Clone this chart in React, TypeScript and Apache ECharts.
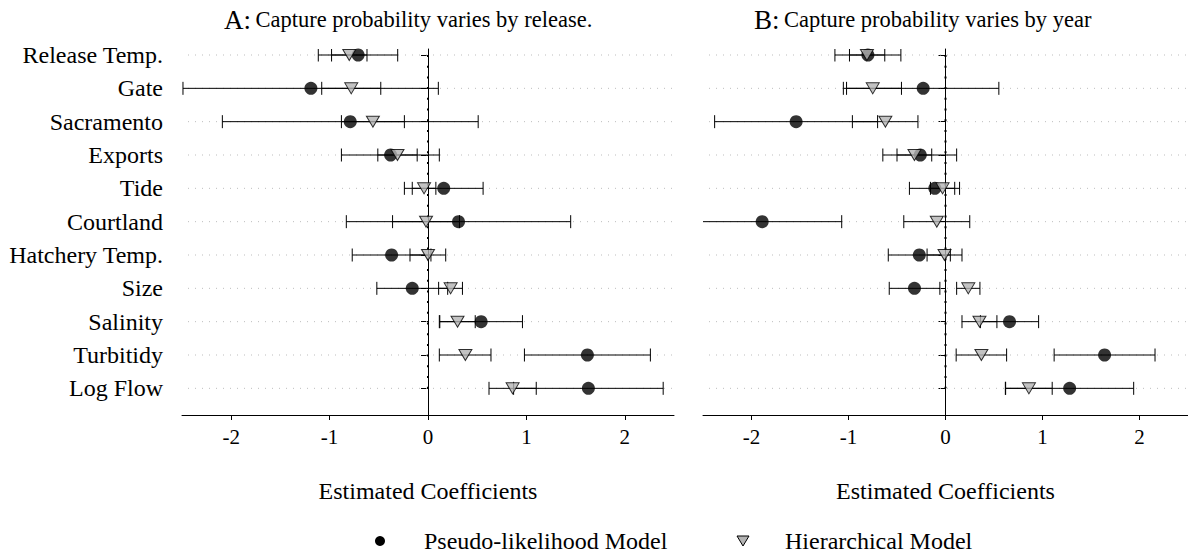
import React, { useEffect, useRef } from "react";
import * as echarts from "echarts";

const variables = [
  "Release Temp.", "Gate", "Sacramento", "Exports", "Tide", "Courtland",
  "Hatchery Temp.", "Size", "Salinity", "Turbitidy", "Log Flow",
];
const rows = variables.map((_, i) => i + 1);
const xTicks = [-2, -1, 0, 1, 2];

// Panel A: capture probability varies by release
const pseudoEstA = [-0.71, -1.19, -0.79, -0.38, 0.16, 0.31, -0.37, -0.16, 0.54, 1.62, 1.63];
const pseudoLowA = [-1.115, -2.49, -2.09, -0.88, -0.24, -0.83, -0.77, -0.52, 0.12, 0.98, 0.87];
const pseudoHighA = [-0.308, 0.105, 0.51, 0.115, 0.56, 1.45, 0.03, 0.2, 0.96, 2.26, 2.39];
const hierEstA = [-0.8, -0.78, -0.56, -0.31, -0.04, -0.02, 0.0, 0.23, 0.3, 0.38, 0.86];
const hierLowA = [-0.98, -1.08, -0.88, -0.51, -0.16, -0.36, -0.183, 0.108, 0.115, 0.115, 0.62];
const hierHighA = [-0.62, -0.48, -0.24, -0.11, 0.08, 0.32, 0.18, 0.35, 0.48, 0.64, 1.1];

// Panel B: capture probability varies by year
const pseudoEstB = [-0.8, -0.23, -1.54, -0.26, -0.11, -1.89, -0.27, -0.32, 0.66, 1.64, 1.28];
const pseudoLowB = [-1.14, -1.02, -2.38, -0.646, -0.372, -2.71, -0.59, -0.58, 0.36, 1.12, 0.62];
const pseudoHighB = [-0.46, 0.55, -0.7, 0.115, 0.145, -1.07, 0.05, -0.058, 0.96, 2.16, 1.94];
const hierEstB = [-0.81, -0.75, -0.62, -0.32, -0.03, -0.09, -0.01, 0.235, 0.35, 0.37, 0.86];
const hierLowB = [-0.99, -1.053, -0.96, -0.5, -0.155, -0.43, -0.19, 0.115, 0.17, 0.11, 0.617];
const hierHighB = [-0.626, -0.454, -0.284, -0.142, 0.095, 0.25, 0.17, 0.355, 0.53, 0.63, 1.1];

const PSEUDO = "Pseudo-likelihood Model";
const HIER = "Hierarchical Model";
const FONT = "Liberation Serif";
const TRI_GRAY = "#b4b4b4";

function gridLines(idx: number) {
  return {
    type: "custom",
    xAxisIndex: idx,
    yAxisIndex: idx,
    silent: true,
    z: 1,
    data: rows.map((r) => [0, r]),
    encode: { x: 0, y: 1 },
    renderItem: (params: any, api: any) => {
      const y = api.coord([0, api.value(1)])[1];
      const cs = params.coordSys;
      return {
        type: "line",
        shape: { x1: cs.x + 6, y1: y, x2: cs.x + cs.width, y2: y },
        style: { stroke: "#bdbdbd", lineWidth: 1, lineDash: [1, 6] },
      };
    },
  };
}

function errorBars(idx: number, name: string, low: number[], high: number[]) {
  return {
    type: "custom",
    name,
    xAxisIndex: idx,
    yAxisIndex: idx,
    clip: true,
    silent: true,
    z: 3,
    data: low.map((l, i) => [l, high[i], i + 1]),
    encode: { x: [0, 1], y: 2 },
    renderItem: (_params: any, api: any) => {
      const p1 = api.coord([api.value(0), api.value(2)]);
      const p2 = api.coord([api.value(1), api.value(2)]);
      const h = 6.5;
      const style = { stroke: "#000", lineWidth: 1, fill: "none" };
      return {
        type: "group",
        children: [
          { type: "line", shape: { x1: p1[0], y1: p1[1], x2: p2[0], y2: p2[1] }, style },
          { type: "line", shape: { x1: p1[0], y1: p1[1] - h, x2: p1[0], y2: p1[1] + h }, style },
          { type: "line", shape: { x1: p2[0], y1: p2[1] - h, x2: p2[0], y2: p2[1] + h }, style },
        ],
      };
    },
  };
}

function zeroLine(idx: number) {
  return {
    type: "line",
    xAxisIndex: idx,
    yAxisIndex: idx,
    silent: true,
    symbol: "none",
    z: 2,
    data: [[0, rows[0]], [0, rows[rows.length - 1]]],
    lineStyle: { color: "#000", width: 2, type: [2, 8.7] },
  };
}

function points(idx: number, est: number[], hier: boolean) {
  return {
    type: "scatter",
    name: hier ? HIER : PSEUDO,
    xAxisIndex: idx,
    yAxisIndex: idx,
    z: hier ? 5 : 4,
    symbol: hier ? "triangle" : "circle",
    symbolRotate: hier ? 180 : 0,
    symbolSize: hier ? [13, 11] : 13,
    itemStyle: hier
      ? { color: TRI_GRAY, borderColor: "#000", borderWidth: 1 }
      : { color: "#000" },
    data: est.map((v, i) => [v, i + 1]),
  };
}

function xAxis(idx: number) {
  return {
    type: "value",
    gridIndex: idx,
    min: -2.5,
    max: 2.5,
    name: "Estimated Coefficients",
    nameLocation: "middle",
    nameGap: 64,
    nameTextStyle: { fontFamily: FONT, fontSize: 24, color: "#000" },
    axisLine: { show: true, lineStyle: { color: "#000", width: 1 } },
    axisTick: { show: true, length: 5, customValues: xTicks, lineStyle: { color: "#000" } },
    axisLabel: {
      customValues: xTicks,
      fontFamily: FONT,
      fontSize: 21,
      color: "#000",
      margin: 11,
      formatter: (v: number) => String(v),
    },
    splitLine: { show: false },
  };
}

function yAxis(idx: number, showLabels: boolean) {
  return {
    type: "value",
    gridIndex: idx,
    inverse: true,
    min: 0.82,
    max: 11.8,
    axisLine: { show: true, lineStyle: { color: "#000", width: 1 } },
    axisTick: { show: true, length: 7, customValues: rows, lineStyle: { color: "#000" } },
    axisLabel: {
      show: showLabels,
      customValues: rows,
      fontFamily: FONT,
      fontSize: 24,
      color: "#000",
      margin: 19,
      formatter: (v: number) => variables[Math.round(v) - 1] ?? "",
    },
    splitLine: { show: false },
  };
}

function titleOf(left: number, letter: string, text: string) {
  return {
    left,
    top: 1,
    text: `{a|${letter}} {b|${text}}`,
    textStyle: {
      fontWeight: "normal",
      fontFamily: FONT,
      rich: {
        a: { fontFamily: FONT, fontSize: 27, fontWeight: "normal", color: "#000" },
        b: { fontFamily: FONT, fontSize: 22.5, fontWeight: "normal", color: "#000" },
      },
    },
  };
}

const legendText = { fontFamily: FONT, fontSize: 24, fill: "#000", verticalAlign: "middle" };

export default function App() {
  const ref = useRef<HTMLDivElement>(null);
  useEffect(() => {
    if (!ref.current) return;
    const chart = echarts.init(ref.current, undefined, { renderer: "svg" });
    chart.setOption({
      animation: false,
      backgroundColor: "#fff",
      textStyle: { fontFamily: FONT },
      title: [
        titleOf(219, "A:", "Capture probability varies by release."),
        titleOf(749, "B:", "Capture probability varies by year"),
      ],
      graphic: [
        { type: "circle", shape: { cx: 380, cy: 541, r: 5 }, style: { fill: "#000" } },
        { type: "text", x: 424, y: 541, style: { ...legendText, text: PSEUDO } },
        {
          type: "polygon",
          shape: { points: [[737, 536], [749, 536], [743, 546]] },
          style: { fill: TRI_GRAY, stroke: "#000", lineWidth: 1 },
        },
        { type: "text", x: 785, y: 541, style: { ...legendText, text: HIER } },
      ],
      grid: [
        { left: 182, top: 49, width: 492, height: 366 },
        { left: 703, top: 49, width: 492, height: 366 },
      ],
      xAxis: [xAxis(0), xAxis(1)],
      yAxis: [yAxis(0, true), yAxis(1, false)],
      series: [
        gridLines(0),
        gridLines(1),
        zeroLine(0),
        zeroLine(1),
        errorBars(0, PSEUDO + " interval", pseudoLowA, pseudoHighA),
        errorBars(0, HIER + " interval", hierLowA, hierHighA),
        errorBars(1, PSEUDO + " interval", pseudoLowB, pseudoHighB),
        errorBars(1, HIER + " interval", hierLowB, hierHighB),
        points(0, pseudoEstA, false),
        points(0, hierEstA, true),
        points(1, pseudoEstB, false),
        points(1, hierEstB, true),
      ],
    });
    return () => chart.dispose();
  }, []);
  return (
    <div
      ref={ref}
      style={{ position: "fixed", left: 0, top: 0, width: 1188, height: 558, overflow: "hidden", background: "#fff" }}
    />
  );
}
